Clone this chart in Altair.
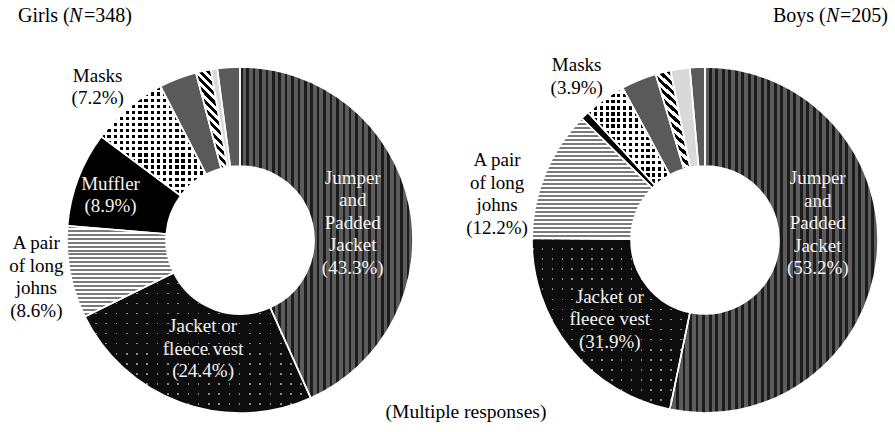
import math
import altair as alt
import pandas as pd

# ---------------- data ----------------
categories = [
    "Jumper and Padded Jacket", "Jacket or fleece vest", "A pair of long johns",
    "Muffler", "Masks", "Other A", "Other B", "Other C", "Other D",
]
girls_values = [43.3, 24.4, 8.6, 8.9, 7.2, 3.5, 1.4, 0.6, 2.1]
boys_values = [53.2, 21.9, 12.2, 0.8, 3.9, 3.3, 1.4, 1.8, 1.4]
girls_labels = ["Jumper\nand\nPadded\nJacket\n(43.3%)", "Jacket or\nfleece vest\n(24.4%)",
                "A pair\nof long\njohns\n(8.6%)", "Muffler\n(8.9%)", "Masks\n(7.2%)", "", "", "", ""]
boys_labels = ["Jumper\nand\nPadded\nJacket\n(53.2%)", "Jacket or\nfleece vest\n(31.9%)",
               "A pair\nof long\njohns\n(12.2%)", "", "Masks\n(3.9%)", "", "", "", ""]
groups = ["Girls", "Boys"]
title_parts = {"Girls": ["Girls (", "N", "=348)"], "Boys": ["Boys (", "N", "=205)"]}
footnote = "(Multiple responses)"

rows = []
for g, vals, labs in [("Girls", girls_values, girls_labels), ("Boys", boys_values, boys_labels)]:
    for i, (c, v, l) in enumerate(zip(categories, vals, labs)):
        rows.append({"group": g, "idx": i, "category": c, "value": v, "label": l})
df = pd.DataFrame(rows)

# ---------------- style ----------------
FONT = "Liberation Serif"
LINE_H = 22.5
CY = 240
R_OUT, R_IN = 173, 74
CENTERS = {"Girls": 240, "Boys": 705}
CLEAR = "rgba(0,0,0,0)"


def stripes(c1, c2, n, f, x1=0, y1=0, x2=1, y2=0):
    stops = []
    for i in range(n):
        a, b, c = i / n, (i + f) / n, (i + 1) / n
        stops += [{"offset": round(a, 5), "color": c1}, {"offset": round(b, 5), "color": c1},
                  {"offset": round(b, 5), "color": c2}, {"offset": round(min(c, 1), 5), "color": c2}]
    return {"gradient": "linear", "x1": x1, "y1": y1, "x2": x2, "y2": y2, "stops": stops}


# pattern repeat counts per donut (depend on slice bounding box)
PAT = {
    "Girls": {"jumper": 27, "dots": (22, 14), "johns": 23, "checker": (17, 18), "hatch": 41},
    "Boys": {"jumper": 32, "dots": (16, 17), "johns": 30, "checker": (14, 16), "hatch": 41},
}
# label placement: idx -> (angle shift deg, radius, colour)
LABEL_STYLE = {
    "Girls": {0: (3.4, 114, "#f2f2f2"), 1: (-1.1, 115, "#f2f2f2"), 2: (0.5, 207, "#000000"),
              3: (-1.6, 137, "#f2f2f2"), 4: (-2.6, 209, "#000000")},
    "Boys": {0: (-14.4, 114, "#f2f2f2"), 1: (-1.0, 124, "#f2f2f2"), 2: (-10.1, 213, "#000000"),
             4: (-2.6, 208, "#000000")},
}

base = alt.Chart(df)


def prepared(group):
    return (
        base.transform_filter(alt.datum.group == group)
        .transform_window(cum="sum(value)", sort=[alt.SortField("idx")], frame=[None, 0])
        .transform_joinaggregate(total="sum(value)")
        .transform_calculate(
            t0="2*PI*(datum.cum - datum.value)/datum.total",
            t1="2*PI*datum.cum/datum.total",
            tm="PI*(2*datum.cum - datum.value)/datum.total",
        )
    )


def arc(group, idxs, **mark):
    return (
        prepared(group)
        .transform_filter(alt.FieldOneOfPredicate(field="idx", oneOf=idxs))
        .mark_arc(outerRadius=R_OUT, innerRadius=R_IN, **mark)
        .encode(theta=alt.Theta("t0:Q", scale=None), theta2="t1:Q",
                x=alt.value(CENTERS[group]), y=alt.value(CY))
    )


def text(group, idx, shift, radius, color):
    labels = girls_labels if group == "Girls" else boys_labels
    nlines = labels[idx].count("\n") + 1
    return (
        prepared(group)
        .transform_filter(alt.datum.idx == idx)
        .transform_calculate(tl=f"datum.tm + {math.radians(shift):.5f}")
        .mark_text(font=FONT, fontSize=19, lineHeight=LINE_H, lineBreak="\n", align="center",
                   baseline="middle", color=color, radius=radius,
                   dy=-(nlines - 1) * LINE_H / 2)
        .encode(theta=alt.Theta("tl:Q", scale=None), text="label:N",
                x=alt.value(CENTERS[group]), y=alt.value(CY))
    )


layers = []
for g in groups:
    p = PAT[g]
    layers += [
        arc(g, [0], fill=stripes("#1c1c1c", "#5c5c5c", p["jumper"], 0.4)),
        arc(g, [1], fill=stripes("#8c8c8c", "#0d0d0d", p["dots"][0], 0.16)),
        arc(g, [1], fill=stripes(CLEAR, "#0d0d0d", p["dots"][1], 0.16, 0, 0, 0, 1)),
        arc(g, [2], fill=stripes("#7a7a7a", "#ffffff", p["johns"], 0.5, 0, 0, 0, 1)),
        arc(g, [3], fill="#000000"),
        arc(g, [4], fill=stripes("#000000", "#ffffff", p["checker"][0], 0.55)),
        arc(g, [4], fill=stripes(CLEAR, "#ffffff", p["checker"][1], 0.55, 0, 0, 0, 1)),
        arc(g, [5, 8], fill="#5a5a5a"),
        arc(g, [6], fill=stripes("#000000", "#ffffff", p["hatch"], 0.5, 0, 1, 1, -2.1)),
        arc(g, [7], fill="#d9d9d9"),
        arc(g, list(range(len(categories))), fill="#ffffff", fillOpacity=0,
            stroke="#ffffff", strokeWidth=1.6),
    ]
    for idx, (shift, rad, col) in LABEL_STYLE[g].items():
        layers.append(text(g, idx, shift, rad, col))

# titles (mixed upright / italic pieces)
title_x = {"Girls": [18, 69, 84], "Boys": [773, 826, 840]}
for g in groups:
    for part, xx, style in zip(title_parts[g], title_x[g], ["normal", "italic", "normal"]):
        layers.append(
            alt.Chart(pd.DataFrame({"t": [part]}))
            .mark_text(font=FONT, fontSize=20, fontStyle=style, align="left", baseline="middle",
                       color="#000000")
            .encode(text="t:N", x=alt.value(xx), y=alt.value(16))
        )

layers.append(
    alt.Chart(pd.DataFrame({"t": [footnote]}))
    .mark_text(font=FONT, fontSize=19.5, align="center", baseline="middle", color="#000000")
    .encode(text="t:N", x=alt.value(466), y=alt.value(412))
)

chart = (
    alt.layer(*layers)
    .properties(width=895, height=432, padding=0, autosize=alt.AutoSizeParams(type="none"),
                background="#ffffff")
    .configure_view(stroke=None)
)

chart.save("out.html", embed_options={"renderer": "svg", "actions": False})
